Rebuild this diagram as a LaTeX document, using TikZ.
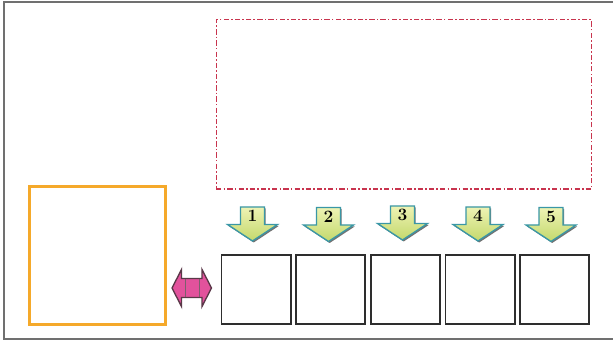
\documentclass[tikz,border=0pt]{standalone}
\usetikzlibrary{calc}
\definecolor{frameg}{HTML}{707070}
\definecolor{dashred}{HTML}{C8344E}
\definecolor{orangebox}{HTML}{F5A92A}
\definecolor{pinkfill}{HTML}{E2529C}
\definecolor{pinkline}{HTML}{5A3848}
\definecolor{greentop}{HTML}{EEF3B4}
\definecolor{greenbot}{HTML}{C3D86C}
\definecolor{tealline}{HTML}{3A97A6}
\definecolor{boxline}{HTML}{2E2E2E}
\tikzset{
  slotbox/.style={draw=boxline, line width=1.4pt, minimum width=52pt, minimum height=51.5pt, inner sep=0pt, anchor=north west},
  numlabel/.style={font=\bfseries\fontsize{13}{13}\selectfont, inner sep=0pt, text=black},
  greenarrow/.style={draw=tealline, line width=1pt, top color=greentop, bottom color=greenbot, line join=miter},
  arrowshadow/.style={fill=black!55, draw=none},
}
\begin{document}
\begin{tikzpicture}[x=0.75pt,y=-0.75pt]
\useasboundingbox (0,0) rectangle (613,341);
% outer frame (left, top, bottom)
\draw[frameg, line width=1pt] (613,2) -- (4,2) -- (4,339) -- (613,339);
% dash-dot rectangle
\node[draw=dashred, line width=0.9pt, dash pattern=on 4pt off 1.6pt on 1.2pt off 1.6pt, minimum width=281.5pt, minimum height=127pt, inner sep=0pt, anchor=north west] (textarea) at (215.5,19) {};
% orange box
\node[draw=orangebox, line width=2pt, minimum width=102pt, minimum height=103.5pt, inner sep=0pt, anchor=north west] (orange) at (28,185) {};
% pink double arrow
\node[inner sep=0pt, minimum width=30pt, minimum height=28pt] (pink) at (192,288) {};
\draw[fill=pinkfill, draw=pinkline, line width=1pt, line join=miter]
  ($(pink.center)+(-20,0)$) -- ++(9.5,-18.5) -- ++(0,9) -- ++(20.5,0) -- ++(0,-9) -- ++(9.5,18.5)
  -- ++(-9.5,18.5) -- ++(0,-9) -- ++(-20.5,0) -- ++(0,9) -- cycle;
\draw[pinkline!80, line width=0.5pt] ($(pink.center)+(-7,-9)$) -- ++(0,18) ($(pink.center)+(7,-9)$) -- ++(0,18);
% boxes
\foreach \i/\x in {1/220.5, 2/295, 3/370, 4/444.5, 5/519}{
  \node[slotbox] (box\i) at (\x,254) {};
}
% green arrows with numbers
\foreach \i/\cx/\ty in {1/252.5/207, 2/328.5/207.5, 3/402.5/206, 4/478/207, 5/551/207.5}{
  \coordinate (ar\i) at (\cx,\ty);
  \fill[arrowshadow] ($(ar\i)+(-10.8,1.5)$) -- ++(24,0) -- ++(0,17.5) -- ++(13,0) -- ++(-25,16.5) -- ++(-25,-16.5) -- ++(13,0) -- cycle;
  \draw[greenarrow] ($(ar\i)+(-12,0)$) -- ++(24,0) -- ++(0,17.5) -- ++(13,0) -- ++(-25,16.5) -- ++(-25,-16.5) -- ++(13,0) -- cycle;
  \node[numlabel] (num\i) at ($(ar\i)+(0,9)$) {\i};
}
\end{tikzpicture}
\end{document}
